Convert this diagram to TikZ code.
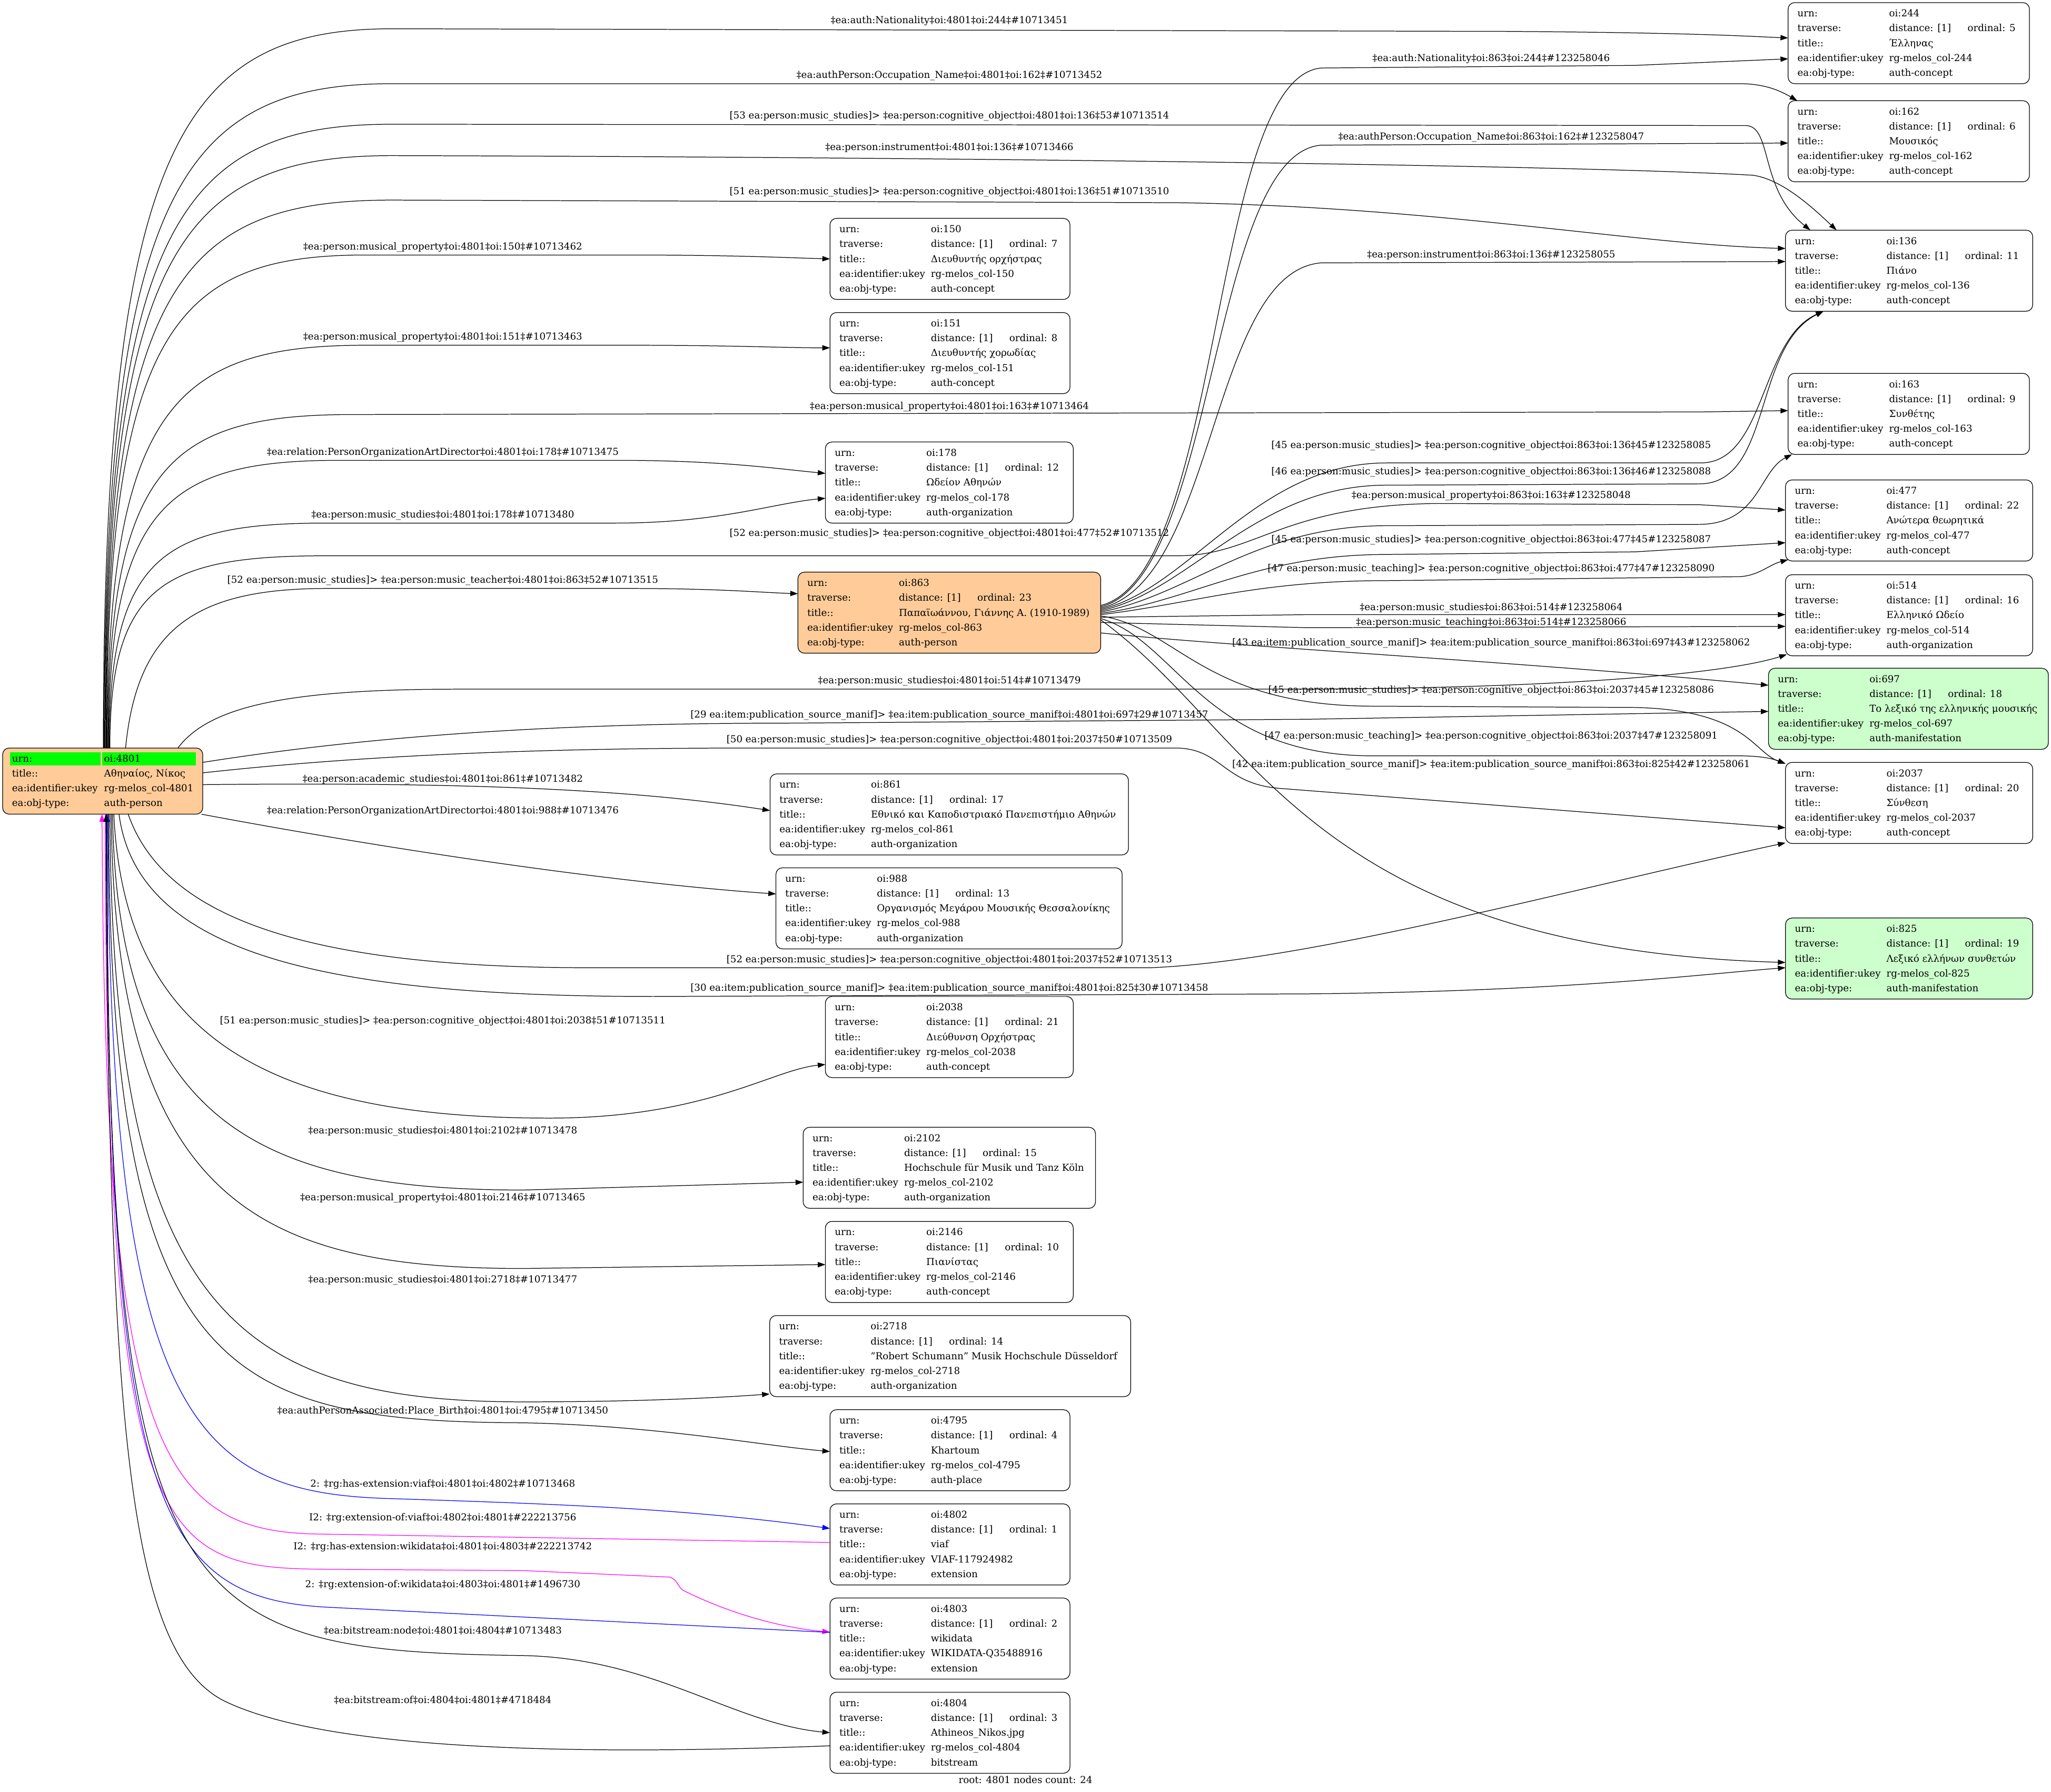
\documentclass[tikz,border=0pt]{standalone}
\usepackage{fontspec}
\setmainfont{DejaVu Serif}
\usetikzlibrary{arrows.meta,calc}
\definecolor{nodeorange}{HTML}{FFCC99}
\definecolor{nodegreen}{HTML}{CCFFCC}
\definecolor{hlgreen}{HTML}{00FF00}
\definecolor{edgeblue}{HTML}{0000FF}
\definecolor{edgemag}{HTML}{FF00FF}
\tikzset{
  obox/.style={draw, line width=0.5pt, rounded corners=5pt, minimum height=62pt, inner sep=0pt, outer sep=0pt, anchor=north west},
  txt/.style={anchor=base west, inner sep=0pt, font=\fontsize{7.35}{9}\selectfont},
  lbl/.style={anchor=center, inner sep=0pt, font=\fontsize{7.35}{9}\selectfont},
  edge/.style={line width=0.5pt, -{Triangle[length=5.8pt,width=4pt]}},
}
\newcommand\mknode[5]{\node[obox, fill=#5, minimum width=#4pt] (#1) at (#2,#3) {};}
\newcommand\rowsfive[6]{%
  \node[txt] (#1ka) at ($(#1.north west)+(7,10.8)$) {urn:};
  \node[txt] (#1va) at ($(#1.north west)+(77,10.8)$) {#2};
  \node[txt] (#1kb) at ($(#1.north west)+(7,22.15)$) {traverse:};
  \node[txt] (#1vb) at ($(#1.north west)+(77,22.15)$) {distance: [1]};
  \node[txt] (#1vo) at ($(#1.north west)+(137,22.15)$) {ordinal: #3};
  \node[txt] (#1kc) at ($(#1.north west)+(7,33.5)$) {title::};
  \node[txt] (#1vc) at ($(#1.north west)+(77,33.5)$) {#4};
  \node[txt] (#1kd) at ($(#1.north west)+(7,44.85)$) {ea:identifier:ukey};
  \node[txt] (#1vd) at ($(#1.north west)+(77,44.85)$) {#5};
  \node[txt] (#1ke) at ($(#1.north west)+(7,56.2)$) {ea:obj-type:};
  \node[txt] (#1ve) at ($(#1.north west)+(77,56.2)$) {#6};
}
\begin{document}
\begin{tikzpicture}[x=1pt, y=-1pt]
\useasboundingbox (0,0) rectangle (1568,1370);

% ---------------- nodes ----------------
\node[obox, fill=nodeorange, minimum width=153pt, minimum height=50.6pt] (root) at (2,572) {};
\fill[hlgreen] (7.8,575.3) rectangle (76.9,585.4);
\fill[hlgreen] (78.1,575.3) rectangle (149.9,585.4);
\node[txt] (rootka) at ($(root.north west)+(7,10.6)$) {urn:};
\node[txt] (rootva) at ($(root.north west)+(77.4,10.6)$) {oi:4801};
\node[txt] (rootkb) at ($(root.north west)+(7,21.9)$) {title::};
\node[txt] (rootvb) at ($(root.north west)+(77.4,21.9)$) {Αθηναίος, Νίκος};
\node[txt] (rootkc) at ($(root.north west)+(7,33.2)$) {ea:identifier:ukey};
\node[txt] (rootvc) at ($(root.north west)+(77.4,33.2)$) {rg-melos\_col-4801};
\node[txt] (rootkd) at ($(root.north west)+(7,44.4)$) {ea:obj-type:};
\node[txt] (rootvd) at ($(root.north west)+(77.4,44.4)$) {auth-person};

\mknode{n244}{1367}{2}{184.5}{white}
\rowsfive{n244}{oi:244}{5}{Έλληνας}{rg-melos\_col-244}{auth-concept}
\mknode{n162}{1367}{77}{184.5}{white}
\rowsfive{n162}{oi:162}{6}{Μουσικός}{rg-melos\_col-162}{auth-concept}
\mknode{n136}{1365}{176}{189}{white}
\rowsfive{n136}{oi:136}{11}{Πιάνο}{rg-melos\_col-136}{auth-concept}
\mknode{n163}{1367}{285.5}{184.5}{white}
\rowsfive{n163}{oi:163}{9}{Συνθέτης}{rg-melos\_col-163}{auth-concept}
\mknode{n477}{1365}{367}{189}{white}
\rowsfive{n477}{oi:477}{22}{Ανώτερα θεωρητικά}{rg-melos\_col-477}{auth-concept}
\mknode{n514}{1365}{439.5}{189}{white}
\rowsfive{n514}{oi:514}{16}{Ελληνικό Ωδείο}{rg-melos\_col-514}{auth-organization}
\mknode{n697}{1352}{511}{214}{nodegreen}
\rowsfive{n697}{oi:697}{18}{Το λεξικό της ελληνικής μουσικής}{rg-melos\_col-697}{auth-manifestation}
\mknode{n2037}{1365}{583}{189}{white}
\rowsfive{n2037}{oi:2037}{20}{Σύνθεση}{rg-melos\_col-2037}{auth-concept}
\mknode{n825}{1365}{702}{189}{nodegreen}
\rowsfive{n825}{oi:825}{19}{Λεξικό ελλήνων συνθετών}{rg-melos\_col-825}{auth-manifestation}

\mknode{n150}{634.5}{167}{183.5}{white}
\rowsfive{n150}{oi:150}{7}{Διευθυντής ορχήστρας}{rg-melos\_col-150}{auth-concept}
\mknode{n151}{634.5}{239}{183.5}{white}
\rowsfive{n151}{oi:151}{8}{Διευθυντής χορωδίας}{rg-melos\_col-151}{auth-concept}
\mknode{n178}{631}{338}{189.5}{white}
\rowsfive{n178}{oi:178}{12}{Ωδείον Αθηνών}{rg-melos\_col-178}{auth-organization}
\mknode{n863}{610}{437.5}{231.5}{nodeorange}
\rowsfive{n863}{oi:863}{23}{Παπαϊωάννου, Γιάννης Α. (1910-1989)}{rg-melos\_col-863}{auth-person}
\mknode{n861}{588.7}{591.8}{274}{white}
\rowsfive{n861}{oi:861}{17}{Εθνικό και Καποδιστριακό Πανεπιστήμιο Αθηνών}{rg-melos\_col-861}{auth-organization}
\mknode{n988}{593.2}{663.6}{264.7}{white}
\rowsfive{n988}{oi:988}{13}{Οργανισμός Μεγάρου Μουσικής Θεσσαλονίκης}{rg-melos\_col-988}{auth-organization}
\mknode{n2038}{631}{762}{189.5}{white}
\rowsfive{n2038}{oi:2038}{21}{Διεύθυνση Ορχήστρας}{rg-melos\_col-2038}{auth-concept}
\mknode{n2102}{614}{862}{223.5}{white}
\rowsfive{n2102}{oi:2102}{15}{Hochschule für Musik und Tanz Köln}{rg-melos\_col-2102}{auth-organization}
\mknode{n2146}{631}{934}{189.5}{white}
\rowsfive{n2146}{oi:2146}{10}{Πιανίστας}{rg-melos\_col-2146}{auth-concept}
\mknode{n2718}{588.4}{1006}{276}{white}
\rowsfive{n2718}{oi:2718}{14}{"Robert Schumann" Musik Hochschule Düsseldorf}{rg-melos\_col-2718}{auth-organization}
\mknode{n4795}{634.5}{1078}{183.5}{white}
\rowsfive{n4795}{oi:4795}{4}{Khartoum}{rg-melos\_col-4795}{auth-place}
\mknode{n4802}{634.5}{1150}{183.5}{white}
\rowsfive{n4802}{oi:4802}{1}{viaf}{VIAF-117924982}{extension}
\mknode{n4803}{634.5}{1222}{183.5}{white}
\rowsfive{n4803}{oi:4803}{2}{wikidata}{WIKIDATA-Q35488916}{extension}
\mknode{n4804}{634.5}{1294}{183.5}{white}
\rowsfive{n4804}{oi:4804}{3}{Athineos\_Nikos.jpg}{rg-melos\_col-4804}{bitstream}

\node[lbl] (caption) at (784,1361) {root: 4801 nodes count: 24};

% ---------------- edge labels (root) ----------------
\node[lbl] (l1) at (725.8,16) {‡ea:auth:Nationality‡oi:4801‡oi:244‡\#10713451};
\node[lbl] (l2) at (725.8,58) {‡ea:authPerson:Occupation\_Name‡oi:4801‡oi:162‡\#10713452};
\node[lbl] (l3) at (725.8,89) {[53 ea:person:music\_studies]> ‡ea:person:cognitive\_object‡oi:4801‡oi:136‡53\#10713514};
\node[lbl] (l4) at (725.8,113) {‡ea:person:instrument‡oi:4801‡oi:136‡\#10713466};
\node[lbl] (l5) at (725.8,147) {[51 ea:person:music\_studies]> ‡ea:person:cognitive\_object‡oi:4801‡oi:136‡51\#10713510};
\node[lbl] (l6) at (338.5,189) {‡ea:person:musical\_property‡oi:4801‡oi:150‡\#10713462};
\node[lbl] (l7) at (338.5,258) {‡ea:person:musical\_property‡oi:4801‡oi:151‡\#10713463};
\node[lbl] (l8) at (725.8,311) {‡ea:person:musical\_property‡oi:4801‡oi:163‡\#10713464};
\node[lbl] (l9) at (338.5,346) {‡ea:relation:PersonOrganizationArtDirector‡oi:4801‡oi:178‡\#10713475};
\node[lbl] (l10) at (338.5,394) {‡ea:person:music\_studies‡oi:4801‡oi:178‡\#10713480};
\node[lbl] (l11) at (725.8,408) {[52 ea:person:music\_studies]> ‡ea:person:cognitive\_object‡oi:4801‡oi:477‡52\#10713512};
\node[lbl] (l12) at (338.5,444) {[52 ea:person:music\_studies]> ‡ea:person:music\_teacher‡oi:4801‡oi:863‡52\#10713515};
\node[lbl] (l13) at (725.8,521) {‡ea:person:music\_studies‡oi:4801‡oi:514‡\#10713479};
\node[lbl] (l14) at (725.8,547) {[29 ea:item:publication\_source\_manif]> ‡ea:item:publication\_source\_manif‡oi:4801‡oi:697‡29\#10713457};
\node[lbl] (l15) at (725.8,566) {[50 ea:person:music\_studies]> ‡ea:person:cognitive\_object‡oi:4801‡oi:2037‡50\#10713509};
\node[lbl] (l16) at (338.5,596) {‡ea:person:academic\_studies‡oi:4801‡oi:861‡\#10713482};
\node[lbl] (l17) at (338.5,620) {‡ea:relation:PersonOrganizationArtDirector‡oi:4801‡oi:988‡\#10713476};
\node[lbl] (l18) at (725.8,734) {[52 ea:person:music\_studies]> ‡ea:person:cognitive\_object‡oi:4801‡oi:2037‡52\#10713513};
\node[lbl] (l19) at (725.8,756) {[30 ea:item:publication\_source\_manif]> ‡ea:item:publication\_source\_manif‡oi:4801‡oi:825‡30\#10713458};
\node[lbl] (l20) at (338.5,781) {[51 ea:person:music\_studies]> ‡ea:person:cognitive\_object‡oi:4801‡oi:2038‡51\#10713511};
\node[lbl] (l21) at (338.5,865) {‡ea:person:music\_studies‡oi:4801‡oi:2102‡\#10713478};
\node[lbl] (l22) at (338.5,916) {‡ea:person:musical\_property‡oi:4801‡oi:2146‡\#10713465};
\node[lbl] (l23) at (338.5,979) {‡ea:person:music\_studies‡oi:4801‡oi:2718‡\#10713477};
\node[lbl] (l24) at (338.5,1079) {‡ea:authPersonAssociated:Place\_Birth‡oi:4801‡oi:4795‡\#10713450};
\node[lbl] (l25) at (338.5,1135) {2: ‡rg:has-extension:viaf‡oi:4801‡oi:4802‡\#10713468};
\node[lbl] (l26) at (338.5,1161) {I2: ‡rg:extension-of:viaf‡oi:4802‡oi:4801‡\#222213756};
\node[lbl] (l27) at (338.5,1183) {I2: ‡rg:has-extension:wikidata‡oi:4801‡oi:4803‡\#222213742};
\node[lbl] (l28) at (338.5,1212) {2: ‡rg:extension-of:wikidata‡oi:4803‡oi:4801‡\#1496730};
\node[lbl] (l29) at (338.5,1247) {‡ea:bitstream:node‡oi:4801‡oi:4804‡\#10713483};
\node[lbl] (l30) at (338.5,1300) {‡ea:bitstream:of‡oi:4804‡oi:4801‡\#4718484};

% ---------------- edge labels (863) ----------------
\node[lbl] (m1) at (1140,45) {‡ea:auth:Nationality‡oi:863‡oi:244‡\#123258046};
\node[lbl] (m2) at (1140,105) {‡ea:authPerson:Occupation\_Name‡oi:863‡oi:162‡\#123258047};
\node[lbl] (m3) at (1140,195) {‡ea:person:instrument‡oi:863‡oi:136‡\#123258055};
\node[lbl] (m4) at (1140,341) {[45 ea:person:music\_studies]> ‡ea:person:cognitive\_object‡oi:863‡oi:136‡45\#123258085};
\node[lbl] (m5) at (1140,361) {[46 ea:person:music\_studies]> ‡ea:person:cognitive\_object‡oi:863‡oi:136‡46\#123258088};
\node[lbl] (m6) at (1140,379) {‡ea:person:musical\_property‡oi:863‡oi:163‡\#123258048};
\node[lbl] (m7) at (1140,413) {[45 ea:person:music\_studies]> ‡ea:person:cognitive\_object‡oi:863‡oi:477‡45\#123258087};
\node[lbl] (m8) at (1140,435) {[47 ea:person:music\_teaching]> ‡ea:person:cognitive\_object‡oi:863‡oi:477‡47\#123258090};
\node[lbl] (m9) at (1140,465) {‡ea:person:music\_studies‡oi:863‡oi:514‡\#123258064};
\node[lbl] (m10) at (1140,476) {‡ea:person:music\_teaching‡oi:863‡oi:514‡\#123258066};
\node[lbl] (m11) at (1140,492) {[43 ea:item:publication\_source\_manif]> ‡ea:item:publication\_source\_manif‡oi:863‡oi:697‡43\#123258062};
\node[lbl] (m12) at (1140,528) {[45 ea:person:music\_studies]> ‡ea:person:cognitive\_object‡oi:863‡oi:2037‡45\#123258086};
\node[lbl] (m13) at (1140,563) {[47 ea:person:music\_teaching]> ‡ea:person:cognitive\_object‡oi:863‡oi:2037‡47\#123258091};
\node[lbl] (m14) at (1140,585) {[42 ea:item:publication\_source\_manif]> ‡ea:item:publication\_source\_manif‡oi:863‡oi:825‡42\#123258061};

% ---------------- edges from root (upwards) ----------------
\draw[edge] ($(root.north)+(0.5,0)$) .. controls (79,110) and (140,22) .. (300,22) -- (1150,24) .. controls (1300,25) and (1340,28) .. ($(n244.north west)+(0,27)$);
\draw[edge] ($(root.north)+(1,0)$) .. controls (79.5,145) and (140,64) .. (300,64) -- (1330,64) .. controls (1350,64) and (1362,70) .. ($(n162.north west)+(7,0)$);
\draw[edge] ($(root.north)+(1.5,0)$) .. controls (80,170) and (140,95) .. (300,95) -- (1335,96) .. controls (1355,97) and (1345,145) .. ($(n136.north west)+(19,0)$);
\draw[edge] ($(root.north)+(2,0)$) .. controls (80.5,190) and (140,119) .. (300,119) .. controls (700,120) and (1200,126) .. (1340,134) .. controls (1362,137) and (1385,158) .. ($(n136.north west)+(39,0)$);
\draw[edge] ($(root.north)+(2.5,0)$) .. controls (81,215) and (140,153) .. (300,153) -- (900,155) .. controls (1100,158) and (1250,187) .. ($(n136.north west)+(0,14)$);
\draw[edge] ($(root.north)+(3,0)$) .. controls (81.5,250) and (135,195) .. (280,195) -- (480,195) .. controls (560,195) and (600,197) .. ($(n150.north west)+(0,31)$);
\draw[edge] ($(root.north)+(3.5,0)$) .. controls (82,310) and (135,264) .. (280,264) -- (480,264) .. controls (560,264) and (600,266) .. ($(n151.north west)+(0,27)$);
\draw[edge] ($(root.north)+(4,0)$) .. controls (82.5,355) and (130,317) .. (270,317) -- (1300,315) -- ($(n163.north west)+(0,28.5)$);
\draw[edge] ($(root.north)+(4.5,0)$) .. controls (83,385) and (130,352) .. (260,352) -- (470,352) .. controls (550,352) and (590,358) .. ($(n178.north west)+(0,24)$);
\draw[edge] ($(root.north)+(5,0)$) .. controls (83.5,425) and (125,400) .. (250,400) -- (470,400) .. controls (550,400) and (590,385) .. ($(n178.north west)+(0,43)$);
\draw[edge] ($(root.north)+(5.5,0)$) .. controls (84,447) and (125,425) .. (250,425) -- (900,425) .. controls (960,425) and (980,386) .. (1100,385) -- (1300,386) -- ($(n477.north west)+(0,23)$);
\draw[edge] ($(root.north)+(17.5,0)$) .. controls (105,480) and (150,450) .. (250,450) -- (480,450) .. controls (550,450) and (580,453) .. ($(n863.north west)+(0,16.5)$);
\draw[edge] ($(root.north east)+(-19,0)$) .. controls (160,540) and (220,527) .. (350,527) -- (1000,527) .. controls (1200,526) and (1320,515) .. ($(n514.south west)+(1,-1)$);
% ---------------- edges from root (right side) ----------------
\draw[edge] ($(root.north east)+(0,11)$) .. controls (300,560) and (450,553) .. (600,553) -- (1000,550) -- ($(n697.north west)+(0,33)$);
\draw[edge] ($(root.north east)+(0,19)$) .. controls (300,575) and (450,572) .. (580,572) -- (900,572) .. controls (935,573) and (935,600) .. (980,603) -- ($(n2037.north west)+(0,50)$);
\draw[edge] ($(root.north east)+(0,28)$) .. controls (350,598) and (480,603) .. ($(n861.north west)+(0,28)$);
\draw[edge] ($(root.south east)+(-1,0)$) .. controls (300,650) and (470,675) .. ($(n988.north west)+(0,20)$);
% ---------------- edges from root (downwards) ----------------
\draw[edge] ($(root.south)+(19.5,0)$) .. controls (125,700) and (230,740) .. (450,740) -- (880,740) .. controls (1000,735) and (1200,680) .. ($(n2037.north west)+(0,61.5)$);
\draw[edge] ($(root.south)+(12.5,0)$) .. controls (105,730) and (250,762) .. (500,762) -- (1000,760) .. controls (1200,758) and (1300,745) .. ($(n825.north west)+(0,38)$);
\draw[edge] ($(root.south)+(8.5,0)$) .. controls (95,790) and (200,855) .. (420,855) .. controls (540,855) and (590,818) .. ($(n2038.north west)+(0,52)$);
\draw[edge] ($(root.south)+(7.5,0)$) .. controls (90,860) and (200,910) .. (400,910) -- ($(n2102.north west)+(0,42)$);
\draw[edge] ($(root.south)+(6.5,0)$) .. controls (88,920) and (200,970) .. (400,970) -- ($(n2146.north west)+(0,33)$);
\draw[edge] ($(root.south)+(5.5,0)$) .. controls (86,1000) and (180,1072) .. (400,1072) .. controls (500,1072) and (560,1068) .. ($(n2718.south west)+(0,-2)$);
\draw[edge] ($(root.south)+(4.5,0)$) .. controls (84,1050) and (170,1087) .. (400,1088) .. controls (500,1090) and (580,1105) .. ($(n4795.north west)+(0,32)$);
\draw[edge, edgeblue] ($(root.south)+(4,0)$) .. controls (83,1090) and (150,1142) .. (300,1146) .. controls (420,1150) and (520,1153) .. ($(n4802.north west)+(0,18.8)$);
\draw[edge, edgemag] ($(n4802.north west)+(0,29.5)$) -- (240,1173) .. controls (120,1170) and (80,1100) .. ($(root.south)+(-0.5,0)$);
\draw[edge, edgemag] ($(root.south)+(2,0)$) .. controls (81,1185) and (120,1199) .. (250,1200) -- (400,1201) -- (512,1206) .. controls (518,1208) and (518,1213) .. (522,1216) .. controls (560,1235) and (600,1245) .. ($(n4803.north west)+(0,26)$);
\draw[edge, edgeblue] ($(n4803.north west)+(0,26.3)$) -- (250,1229) .. controls (120,1222) and (81,1150) .. ($(root.south)+(3.5,0)$);
\draw[edge] ($(root.south)+(3,0)$) .. controls (82,1235) and (130,1262) .. (400,1266) .. controls (500,1268) and (560,1318) .. ($(n4804.north west)+(0,31)$);
\draw[edge] ($(n4804.north west)+(0,41)$) .. controls (450,1342) and (250,1340) .. (170,1300) .. controls (100,1262) and (83,1100) .. ($(root.south)+(2.5,0)$);

% ---------------- edges from 863 ----------------
\draw[edge] ($(n863.north east)+(0,25.5)$) .. controls (935,440) and (925,60) .. (1010,52) -- (1250,50) -- ($(n244.north west)+(0,43)$);
\draw[edge] ($(n863.north east)+(0,26.5)$) .. controls (930,442) and (925,118) .. (1010,111) -- ($(n162.north west)+(0,32.4)$);
\draw[edge] ($(n863.north east)+(0,27.5)$) .. controls (930,445) and (925,208) .. (1010,201) -- ($(n136.north west)+(0,24)$);
\draw[edge] ($(n863.north east)+(0,28.5)$) .. controls (910,450) and (960,354) .. (1060,354) -- (1300,354) .. controls (1350,354) and (1345,260) .. ($(n136.south west)+(29,0)$);
\draw[edge] ($(n863.north east)+(0,29.5)$) .. controls (910,452) and (960,371) .. (1060,371) -- (1300,370) .. controls (1355,369) and (1340,265) .. ($(n136.south west)+(29,0)$);
\draw[edge] ($(n863.north east)+(0,30.5)$) .. controls (910,455) and (960,402) .. (1060,402) -- (1300,401) .. controls (1345,400) and (1345,360) .. ($(n163.south west)+(3,0)$);
\draw[edge] ($(n863.north east)+(0,31.5)$) .. controls (910,460) and (960,424) .. (1060,424) -- (1250,422) -- ($(n477.north west)+(0,48)$);
\draw[edge] ($(n863.north east)+(0,32.5)$) .. controls (910,462) and (960,444) .. (1060,444) -- (1330,441) .. controls (1345,440) and (1352,432) .. ($(n477.south west)+(2,-1)$);
\draw[edge] ($(n863.north east)+(0,34.5)$) -- (1000,470) -- ($(n514.north west)+(0,30.5)$);
\draw[edge] ($(n863.north east)+(0,38.5)$) -- (1000,480) -- ($(n514.north west)+(0,39.5)$);
\draw[edge] ($(n863.north east)+(0,46.5)$) .. controls (950,495) and (1150,505) .. ($(n697.north west)+(0,13)$);
\draw[edge] ($(n863.north east)+(0,33.5)$) .. controls (900,480) and (920,540) .. (1050,540) -- (1250,541) .. controls (1335,543) and (1340,575) .. ($(n2037.north west)+(0,1)$);
\draw[edge] ($(n863.north east)+(0,35.5)$) .. controls (900,490) and (920,578) .. (1050,578) -- (1330,578) .. controls (1345,578) and (1355,580) .. ($(n2037.north west)+(0,1)$);
\draw[edge] ($(n863.north east)+(0,36.5)$) .. controls (960,560) and (1000,725) .. ($(n825.north west)+(0,34)$);
\end{tikzpicture}
\end{document}
